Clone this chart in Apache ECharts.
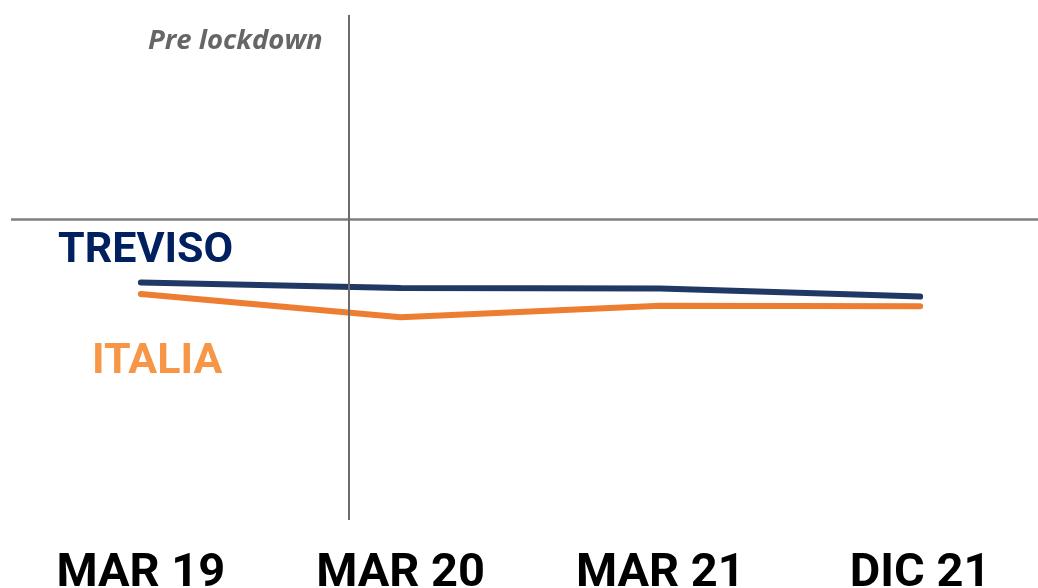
<!DOCTYPE html>
<html>
<head>
<meta charset="utf-8">
<script src="https://cdn.jsdelivr.net/npm/echarts@6/dist/echarts.min.js"></script>
<style>
  html, body { margin: 0; padding: 0; background: #fff; }
  #main { width: 1038px; height: 588px; }
</style>
</head>
<body>
<div id="main"></div>
<script>
var periods = ['MAR 19', 'MAR 20', 'MAR 21', 'DIC 21'];
var treviso = [-12.7, -13.8, -13.9, -15.5];
var italia = [-15.0, -19.6, -17.3, -17.4];
var lockdownAt = 0.8;   // between MAR 19 and MAR 20
var baseline = 0;

function pairs(vals) {
    return vals.map(function (v, i) { return [i, v]; });
}

var myChart = echarts.init(document.getElementById('main'));

var option = {
    animation: false,
    grid: { left: 11, right: -12, top: 15, bottom: 68, outerBoundsMode: 'none', containLabel: false },
    xAxis: {
        type: 'value',
        min: -0.5,
        max: 3.5,
        splitLine: { show: false },
        axisLine: { show: false },
        axisTick: { show: false },
        axisLabel: {
            customValues: [0, 1, 2, 3],
            formatter: function (v) { return periods[Math.round(v)]; },
            color: '#000',
            fontFamily: 'Roboto',
            fontWeight: 'bold',
            fontSize: 47,
            margin: 31
        }
    },
    yAxis: {
        type: 'value',
        min: -60,
        max: 40.6,
        show: false
    },
    graphic: [
        { type: 'text', left: 58, top: 230,
          style: { text: 'TREVISO', fill: '#002060', font: 'bold 43px Roboto' } },
        { type: 'text', left: 92, top: 341,
          style: { text: 'ITALIA', fill: '#f79646', font: 'bold 43px Roboto' } },
        { type: 'text', left: 148, top: 28,
          style: { text: 'Pre lockdown', fill: '#666666', font: 'italic bold 27.5px "Open Sans"' } }
    ],
    series: [
        {
            name: 'TREVISO',
            type: 'line',
            data: pairs(treviso),
            showSymbol: false,
            lineStyle: { color: '#1f3864', width: 6, cap: 'round' },
            z: 3,
            markLine: {
                silent: true,
                symbol: 'none',
                label: { show: false },
                data: [
                    { yAxis: baseline, lineStyle: { color: '#7f7f7f', width: 2.5, type: 'solid' } },
                    { xAxis: lockdownAt, lineStyle: { color: '#6b6b6b', width: 2, type: 'solid' } }
                ]
            }
        },
        {
            name: 'ITALIA',
            type: 'line',
            data: pairs(italia),
            showSymbol: false,
            lineStyle: { color: '#ed7d31', width: 6, cap: 'round' },
            z: 2
        }
    ]
};

myChart.setOption(option, true);
</script>
</body>
</html>
